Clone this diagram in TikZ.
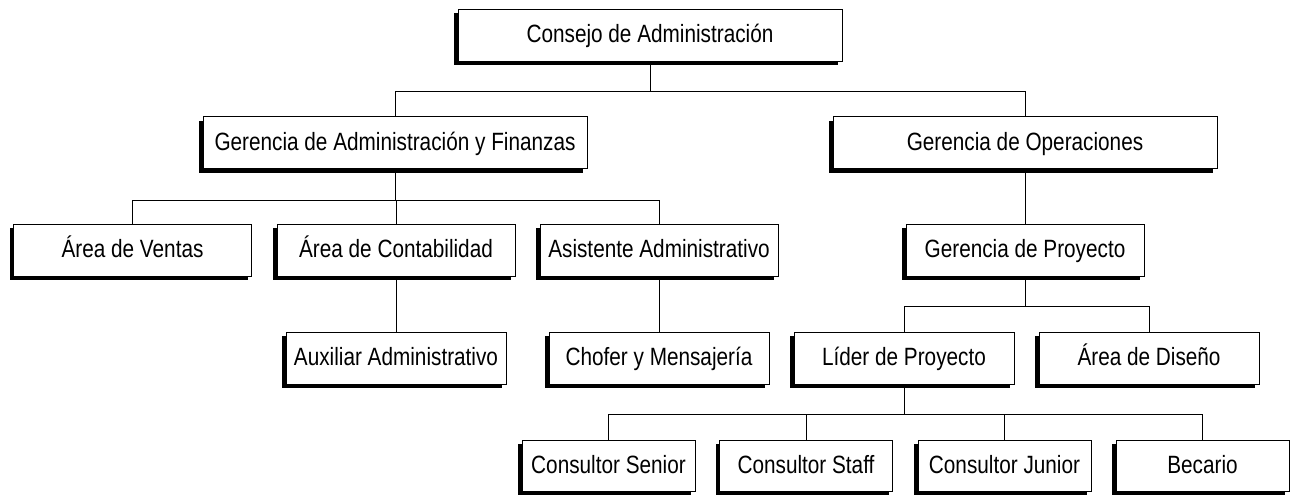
\documentclass[tikz,border=0pt]{standalone}
\usepackage{fontspec}
\setmainfont{Liberation Sans}[FakeStretch=0.83]
\usetikzlibrary{shadows}

\begin{document}
\begin{tikzpicture}[x=1pt,y=-1pt,
    caja/.style={rectangle,draw,line width=1pt,fill=white,inner sep=2pt,
                 text height=19pt,text depth=4pt,
                 minimum height=52pt,font=\fontsize{25}{30}\selectfont,
                 drop shadow={shadow xshift=-4pt,shadow yshift=-4pt,fill=black,opacity=1}},
    linea/.style={draw=black,line width=1pt}]
\useasboundingbox (0,0) rectangle (1292,495);

\begin{scope}[every node/.style={caja,minimum width=384pt}]
    \node (CA) at (650,35.5) {Consejo de Administración};
    \node (GAF) at (395,142.5) {Gerencia de Administración y Finanzas};
    \node (GO) at (1025,142.5) {Gerencia de Operaciones};
\end{scope}

\begin{scope}[every node/.style={caja,minimum width=238pt}]
    \node (AV) at (132.5,250) {Área de Ventas};
    \node (AC) at (396,250) {Área de Contabilidad};
    \node (AA) at (659,250) {Asistente Administrativo};
    \node (GP) at (1025,250) {Gerencia de Proyecto};
\end{scope}

\begin{scope}[every node/.style={caja,minimum width=220pt}]
    \node (AUX) at (396,358) {Auxiliar Administrativo};
    \node (CM) at (659,358) {Chofer y Mensajería};
    \node (LP) at (904,358) {Líder de Proyecto};
    \node (AD) at (1149,358) {Área de Diseño};
\end{scope}

\begin{scope}[every node/.style={caja,minimum width=173pt,minimum height=51pt}]
    \node (CS) at (608.5,465.5) {Consultor Senior};
    \node (CST) at (806,465.5) {Consultor Staff};
    \node (CJ) at (1004.5,465.5) {Consultor Junior};
    \node (BE) at (1202.5,465.5) {Becario};
\end{scope}

\begin{scope}
     \draw [linea] (CA.south) -- ++(0,29.5) -| (GAF.north);
     \draw [linea] (CA.south) -- ++(0,29.5) -| (GO.north);

     \draw [linea] (GAF.south) -- ++(0,31) -| (AV.north);
     \draw [linea] (GAF.south) -- ++(0,31) -| (AC.north);
     \draw [linea] (GAF.south) -- ++(0,31) -| (AA.north);

     \draw [linea] (GO.south) -- (GP.north);

     \draw [linea] (AC.south) -- (AUX.north);
     \draw [linea] (AA.south) -- (CM.north);

     \draw [linea] (GP.south) -- ++(0,30) -| (LP.north);
     \draw [linea] (GP.south) -- ++(0,30) -| (AD.north);

     \draw [linea] (LP.south) -- ++(0,30) -| (CS.north);
     \draw [linea] (LP.south) -- ++(0,30) -| (CST.north);
     \draw [linea] (LP.south) -- ++(0,30) -| (CJ.north);
     \draw [linea] (LP.south) -- ++(0,30) -| (BE.north);
\end{scope}
\end{tikzpicture}
\end{document}
